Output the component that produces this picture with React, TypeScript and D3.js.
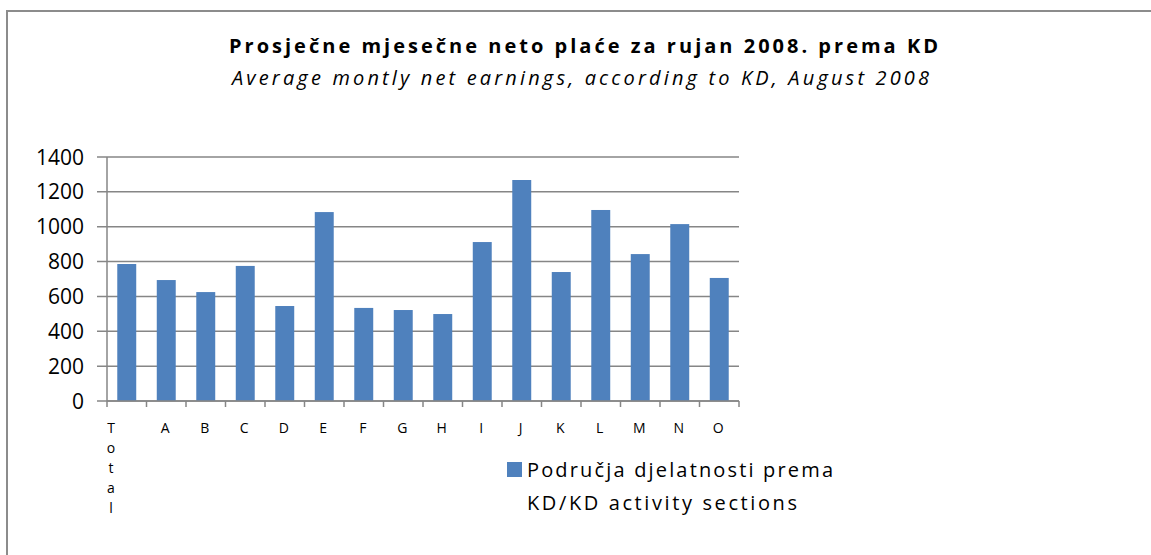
import React, { useEffect, useRef } from "react";
import * as d3 from "d3";

const categories = ["Total", "A", "B", "C", "D", "E", "F", "G", "H", "I", "J", "K", "L", "M", "N", "O"];
const earnings = [786, 694, 625, 775, 545, 1084, 534, 522, 499, 912, 1268, 740, 1096, 843, 1015, 706];
const yTicks = [0, 200, 400, 600, 800, 1000, 1200, 1400];
const titleHr = "Prosječne mjesečne neto plaće za rujan 2008. prema KD";
const titleEn = "Average montly  net earnings, according to KD, August 2008";
const legendLines = ["Područja djelatnosti prema", "KD/KD activity sections"];

const FONT = "'Open Sans', Lato, sans-serif";
const BAR = "#4f81bd";
const GRID = "#868686";

export default function App() {
  const ref = useRef<SVGSVGElement>(null);

  useEffect(() => {
    const svg = d3.select(ref.current);
    svg.selectAll("*").remove();

    const W = 1151, H = 555;
    const plot = { left: 107, right: 739, top: 157, bottom: 401 };

    svg.append("rect").attr("width", W).attr("height", H).attr("fill", "#fff");

    // chart frame (only top and left edges visible)
    svg.append("path")
      .attr("d", `M7,${H} L7,11 L${W},11`)
      .attr("fill", "none")
      .attr("stroke", "#8c8c8c")
      .attr("stroke-width", 2);

    // titles
    svg.append("text")
      .attr("x", 229).attr("y", 53)
      .attr("textLength", 709).attr("lengthAdjust", "spacing")
      .style("font-family", FONT).style("font-weight", "bold").style("font-size", "20px")
      .attr("fill", "#000")
      .text(titleHr);
    svg.append("text")
      .attr("x", 232).attr("y", 85)
      .attr("textLength", 697).attr("lengthAdjust", "spacing")
      .style("font-family", FONT).style("font-style", "italic").style("font-size", "20px")
      .attr("fill", "#000")
      .text(titleEn);

    const x = d3.scaleBand().domain(categories).range([plot.left, plot.right]).paddingInner(0.52).paddingOuter(0.26);
    const step = (plot.right - plot.left) / categories.length;
    const y = d3.scaleLinear().domain([0, 1400]).range([plot.bottom, plot.top]);

    // gridlines + y labels
    const g = svg.append("g");
    g.selectAll(".grid").data(yTicks).enter().append("line")
      .attr("x1", plot.left - 10).attr("x2", plot.right)
      .attr("y1", d => y(d)).attr("y2", d => y(d))
      .attr("stroke", GRID).attr("stroke-width", 1.5);
    g.selectAll(".ylab").data(yTicks).enter().append("text")
      .attr("x", 84).attr("y", d => y(d)).attr("dy", "0.36em")
      .attr("text-anchor", "end")
      .style("font-family", FONT).style("font-size", "21px")
      .attr("fill", "#000")
      .text(d => d);

    // bars
    svg.selectAll(".bar").data(earnings).enter().append("rect")
      .attr("x", (d, i) => x(categories[i]) as number)
      .attr("width", x.bandwidth())
      .attr("y", d => y(d))
      .attr("height", d => plot.bottom - y(d))
      .attr("fill", BAR);

    // x axis with ticks at category boundaries
    svg.append("line")
      .attr("x1", plot.left).attr("x2", plot.right)
      .attr("y1", plot.bottom).attr("y2", plot.bottom)
      .attr("stroke", GRID).attr("stroke-width", 1.5);
    svg.append("line")
      .attr("x1", plot.left).attr("x2", plot.left)
      .attr("y1", plot.top).attr("y2", plot.bottom + 6)
      .attr("stroke", GRID).attr("stroke-width", 1.5);
    svg.selectAll(".xtick").data(d3.range(1, categories.length + 1)).enter().append("line")
      .attr("x1", i => plot.left + i * step).attr("x2", i => plot.left + i * step)
      .attr("y1", plot.bottom).attr("y2", plot.bottom + 6)
      .attr("stroke", GRID).attr("stroke-width", 1.5);

    // x labels, "Total" wrapped one letter per line
    categories.forEach((c, i) => {
      const cx = (x(c) as number) + x.bandwidth() / 2;
      if (c === "Total") {
        c.split("").forEach((ch, k) => {
          svg.append("text")
            .attr("x", 111).attr("y", 433 + k * 20)
            .attr("text-anchor", "middle")
            .style("font-family", FONT).style("font-size", "14px")
            .attr("fill", "#000")
            .text(ch);
        });
      } else {
        svg.append("text")
          .attr("x", cx - 1).attr("y", 433)
          .attr("text-anchor", "middle")
          .style("font-family", FONT).style("font-size", "14px")
          .attr("fill", "#000")
          .text(c);
      }
    });

    // legend
    svg.append("rect")
      .attr("x", 507).attr("y", 462).attr("width", 15).attr("height", 15)
      .attr("fill", BAR);
    svg.append("text")
      .attr("x", 527).attr("y", 477)
      .attr("textLength", 306).attr("lengthAdjust", "spacing")
      .style("font-family", FONT).style("font-size", "20px")
      .attr("fill", "#000")
      .text(legendLines[0]);
    svg.append("text")
      .attr("x", 527).attr("y", 510)
      .attr("textLength", 270).attr("lengthAdjust", "spacing")
      .style("font-family", FONT).style("font-size", "20px")
      .attr("fill", "#000")
      .text(legendLines[1]);
  }, []);

  return (
    <svg
      ref={ref}
      width={1151}
      height={555}
      style={{ position: "absolute", left: 0, top: 0, display: "block" }}
    />
  );
}
